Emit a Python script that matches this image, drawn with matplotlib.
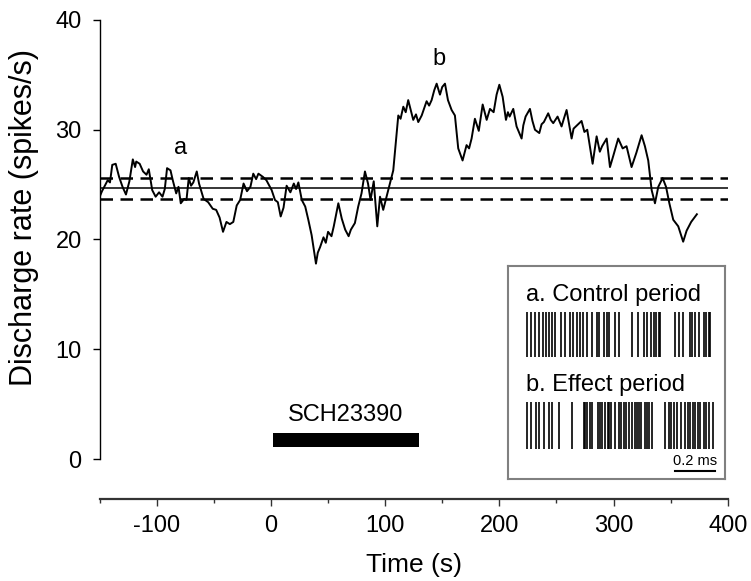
import matplotlib
matplotlib.use("Agg")
import matplotlib.pyplot as plt

plt.rcParams['font.family'] = ['Liberation Sans', 'DejaVu Sans']
plt.rcParams['axes.unicode_minus'] = False

# ---- data ----
time_s = [-150, -148, -146, -143, -141, -139, -136, -133, -130, -127, -124, -121, -119, -118, -115,
          -112, -109, -107, -104, -101, -98, -95, -93, -91, -88, -86, -83, -81, -79, -76, -74,
          -72, -70, -68, -65, -63, -59, -55, -51, -48, -45, -42, -39, -36, -33, -30, -27, -24, -21,
          -18, -15.5, -13, -11, -7, -4, 0.6, 3.5, 6, 8.5, 11, 13.7, 17, 20, 22, 24, 27, 30, 32.7,
          35.6, 39.4, 41, 43, 46, 48, 50, 53, 55, 59, 62, 65, 68, 70, 73.5, 76.4, 79.3, 82.3, 85, 87.2,
          90, 93.1, 95.5, 98.3, 102.7, 107.1, 111.5, 113.5, 115.9, 118, 120.2, 124.6, 127, 129, 132, 136.3,
          138.5, 140.7, 143, 145.1, 148, 150, 152.4, 155, 158.2, 161.1, 164, 167.8, 171.3, 173.5, 175.7, 178.6, 182,
          185.4, 188.9, 191.8, 195, 197.6, 200, 202.9, 205.8, 207.5, 209, 212.2, 215.1, 219.5, 221, 223,
          226.8, 229, 231.2, 235, 237, 239, 242.8, 245, 247.2, 251, 254.5, 256.5, 258.9, 263.3, 265, 267, 272, 274.5, 277,
          281.7, 285.2, 288, 290, 294, 296.9, 300, 304.1, 308, 311.4, 315.8, 320, 324.6, 327.5,
          330.4, 333.4, 336.3, 339.2, 343, 346, 348.9, 352.3, 356.7, 361, 364, 368, 373]
rate = [23.9, 24.4, 24.8, 25.4, 25.2, 26.8, 26.9, 25.7, 24.8, 24.1, 25.3, 27.3, 26.6, 27.1, 26.9,
        26.2, 25.9, 26.4, 24.5, 23.9, 24.3, 23.9, 24.6, 26.5, 26.3, 25.4, 24.2, 24.8, 23.3, 23.7, 23.6,
        25.6, 24.9, 25.2, 26.2, 25.1, 23.7, 23.4, 22.8, 22.7, 22.0, 20.7, 21.6, 21.4, 21.6, 23.1, 23.6, 25.1, 24.4,
        24.8, 26.0, 25.5, 26.0, 25.7, 25.4, 24.5, 23.6, 23.4, 22.1, 22.9, 24.9, 24.3, 25.1, 24.6, 25.2, 23.6, 23.0, 21.8,
        20.4, 17.8, 18.8, 19.3, 20.2, 19.7, 20.7, 20.3, 21.2, 23.3, 21.9, 20.9, 20.3, 20.9, 21.5, 23.0, 24.2, 26.2, 25.1, 23.6,
        25.3, 21.2, 23.9, 22.7, 24.5, 26.3, 31.3, 31.0, 32.1, 31.6, 32.7, 30.9, 31.4, 30.7, 31.3, 32.6,
        32.2, 32.7, 33.6, 34.2, 33.2, 33.9, 34.2, 32.7, 31.8, 31.3, 28.3, 27.2, 28.6, 28.3, 29.2, 31.0, 29.9,
        32.3, 30.9, 31.9, 31.6, 33.2, 34.1, 33.0, 30.9, 31.6, 31.2, 31.9, 30.3, 29.2, 30.4, 31.2,
        31.9, 30.8, 30.0, 29.7, 30.5, 30.7, 31.5, 30.9, 30.6, 31.2, 30.3, 31.0, 31.8, 29.2, 30.1, 30.3, 30.8, 29.8, 30.0,
        26.9, 29.4, 28.0, 28.5, 29.2, 26.6, 27.7, 29.2, 28.3, 28.5, 26.6, 27.9, 29.5, 28.5,
        27.2, 24.5, 23.3, 24.8, 25.6, 24.8, 23.3, 21.8, 21.2, 19.8, 20.8, 21.6, 22.3]

baseline_mean = 24.65
baseline_band = 0.95

drug_label = "SCH23390"
drug_start, drug_end = 0, 130

x_ticks = [-100, 0, 100, 200, 300, 400]
x_minor = [-150, -50, 50, 150, 250, 350]
y_ticks = [0, 10, 20, 30, 40]

# spike rasters (ms)
spikes_a = [0, .02, .041, .058, .078, .095, .108, .125, .142, .172, .192, .217, .23, .25,
            .267, .28, .30, .325, .35, .362, .383, .40, .412, .442, .458, .525, .555, .583,
            .60, .622, .633, .645, .658, .667, .742, .758, .78, .817, .825, .842, .858,
            .883, .897, .908, .917]
spikes_b = [0.0, .02, .045, .058, .083, .112, .125, .158, .225, .283, .292, .30, .317, .325,
            .355, .367, .375, .392, .405, .412, .422, .442, .462, .472, .483, .495, .508,
            .525, .538, .55, .562, .572, .588, .60, .612, .625, .692, .708, .722, .733, .75,
            .772, .792, .805, .817, .828, .842, .855, .867, .883, .895, .908, .928]

W, H = 751, 581
fig = plt.figure(figsize=(W / 100, H / 100), dpi=100)
x0, x1 = 99.7, 727.7
y0, y1 = 459, 20
ax = fig.add_axes([x0 / W, 1 - y0 / H, (x1 - x0) / W, (y0 - y1) / H])

ax.plot(time_s, rate, color='black', lw=1.4, zorder=3)
ax.axhline(baseline_mean, color='black', lw=1.1)
ax.axhline(baseline_mean + baseline_band, color='black', lw=1.8, dashes=(5, 3))
ax.axhline(baseline_mean - baseline_band, color='black', lw=1.8, dashes=(5, 3))

ax.fill_between([drug_start + 2, drug_end], 1.1, 2.4, color='black', lw=0)
ax.text((drug_start + drug_end) / 2, 3.0, drug_label, ha='center', va='bottom', fontsize=17)

ax.text(-79, 27.3, 'a', ha='center', va='bottom', fontsize=17)
ax.text(147, 35.4, 'b', ha='center', va='bottom', fontsize=17)

ax.set_xlim(-150, 400)
ax.set_ylim(0, 40)
ax.spines['top'].set_visible(False)
ax.spines['right'].set_visible(False)
ax.spines['bottom'].set_position(('outward', 29))
ax.spines['bottom'].set_color('#333333')
ax.spines['bottom'].set_linewidth(1.6)
ax.spines['left'].set_linewidth(1.0)
ax.set_xticks(x_ticks)
ax.set_xticks(x_minor, minor=True)
ax.set_yticks(y_ticks)
ax.tick_params(axis='both', labelsize=17, direction='out', length=5, width=1)
ax.tick_params(axis='x', which='major', pad=6, color='#333333')
ax.tick_params(axis='x', which='minor', length=3, width=1, color='#333333')
ax.tick_params(axis='y', pad=8)
ax.set_xlabel('Time (s)', fontsize=19)
ax.xaxis.set_label_coords(0.5, -0.213)
ax.set_ylabel('Discharge rate (spikes/s)', fontsize=22)
ax.yaxis.set_label_coords(-0.097, 0.55)

# inset
bx0, bx1, by_top, by_bot = 508, 725, 266, 479
iax = fig.add_axes([bx0 / W, 1 - by_bot / H, (bx1 - bx0) / W, (by_bot - by_top) / H])
iax.set_xlim((bx0 - 527) / 200, (bx1 - 527) / 200)
iax.set_ylim(by_bot, by_top)
iax.set_xticks([])
iax.set_yticks([])
for s in iax.spines.values():
    s.set_color('#808080')
    s.set_linewidth(1.5)
iax.text(-0.005, 295, 'a. Control period', fontsize=17, va='center', ha='left')
iax.vlines(spikes_a, 312, 357, color='black', lw=1.2)
iax.text(-0.005, 385, 'b. Effect period', fontsize=17, va='center', ha='left')
iax.vlines(spikes_b, 402, 449, color='black', lw=1.2)
iax.plot([0.74, 0.94], [471, 471], color='black', lw=1.5)
iax.text(0.84, 468, '0.2 ms', fontsize=10.5, ha='center', va='bottom')

fig.savefig('out.png', dpi=100)
